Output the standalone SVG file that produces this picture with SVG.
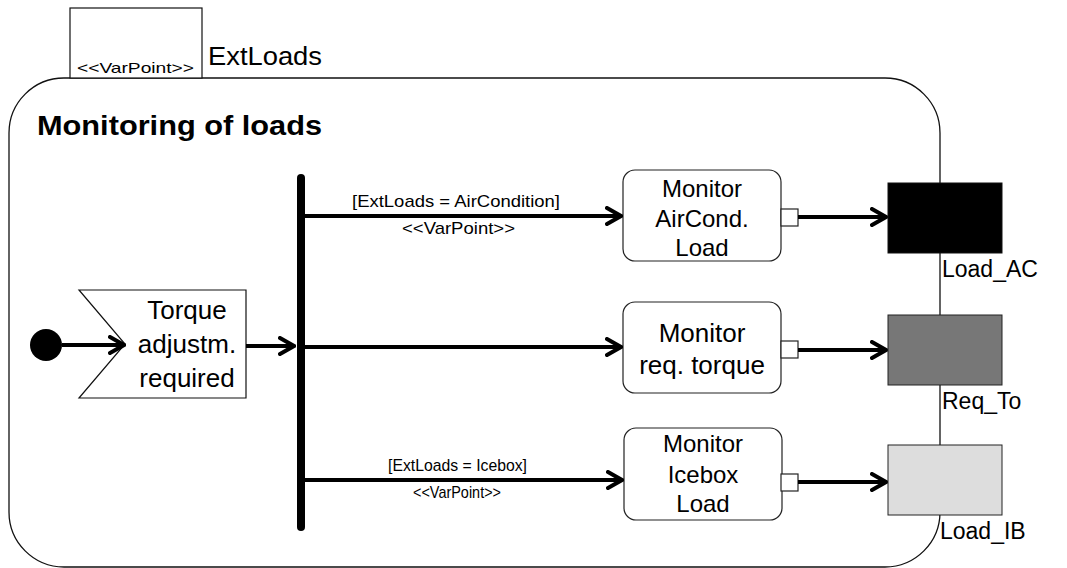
<svg xmlns="http://www.w3.org/2000/svg" width="1067" height="568" viewBox="0 0 1067 568">
<style>
text{font-family:"Liberation Sans",Arial,sans-serif;fill:#000}
.lbl{font-size:23px}
.nd{font-size:24px}
.nd2{font-size:26px}
.flag{font-size:26px}
.mid{font-size:17px}
.sm{font-size:15px}
.title{font-size:28px;font-weight:bold}
.act{fill:#fff;stroke:#222;stroke-width:1.2}
.pin{fill:#fff;stroke:#222;stroke-width:1.2}
.conn{stroke:#000;stroke-width:4;fill:none}
.c{text-anchor:middle}
</style>
<defs>
<marker id="arr" markerUnits="userSpaceOnUse" viewBox="-16 -10 18 20" refX="0" refY="0" markerWidth="18" markerHeight="20" orient="auto">
<path d="M-14,-8 L0,0 L-14,8" fill="none" stroke="#000" stroke-width="4" stroke-linecap="round" stroke-linejoin="miter"/>
</marker>
</defs>
<rect width="1067" height="568" fill="#fff"/>

<g id="frame">
<rect x="9" y="78" width="931" height="489" rx="55" ry="55" fill="none" stroke="#111" stroke-width="1.3"/>
<text class="title" x="37" y="135" textLength="285" lengthAdjust="spacingAndGlyphs">Monitoring of loads</text>
</g>

<g id="varpoint-extloads">
<rect x="70" y="8" width="132" height="70" fill="#fff" stroke="#111" stroke-width="1.2"/>
<text class="sm" x="77" y="73" textLength="117" lengthAdjust="spacingAndGlyphs">&lt;&lt;VarPoint&gt;&gt;</text>
<text style="font-size:25px" x="208" y="65" textLength="114" lengthAdjust="spacingAndGlyphs">ExtLoads</text>
</g>

<g id="initial">
<circle cx="46" cy="345" r="16" fill="#000"/>
</g>

<g id="accept-event">
<polygon points="79,290 246,290 246,398 79,398 125,344" fill="#fff" stroke="#111" stroke-width="1.2"/>
<text class="flag c" x="187" y="319">Torque</text>
<text class="flag c" x="187" y="353">adjustm.</text>
<text class="flag c" x="187" y="387">required</text>
</g>

<g id="fork">
<line x1="301" y1="178" x2="301" y2="527" stroke="#000" stroke-width="8" stroke-linecap="round"/>
</g>

<g id="act-aircond">
<rect class="act" x="623" y="170" width="158" height="91" rx="12"/>
<text class="nd c" x="702" y="197">Monitor</text>
<text class="nd c" x="702" y="227">AirCond.</text>
<text class="nd c" x="702" y="256">Load</text>
<rect class="pin" x="781" y="209" width="17" height="17"/>
</g>

<g id="act-torque">
<rect class="act" x="623" y="302" width="158" height="91" rx="12"/>
<text class="nd2 c" x="702" y="342">Monitor</text>
<text class="nd2 c" x="702" y="374">req. torque</text>
<rect class="pin" x="781" y="341" width="17" height="17"/>
</g>

<g id="act-icebox">
<rect class="act" x="624" y="428" width="158" height="92" rx="12"/>
<text class="nd c" x="703" y="452">Monitor</text>
<text class="nd c" x="703" y="483">Icebox</text>
<text class="nd c" x="703" y="512">Load</text>
<rect class="pin" x="781" y="474" width="17" height="17"/>
</g>

<g id="connectors">
<line class="conn" x1="62" y1="345" x2="124" y2="345" marker-end="url(#arr)"/>
<line class="conn" x1="246" y1="346" x2="294" y2="346" marker-end="url(#arr)"/>
<line class="conn" x1="301" y1="216" x2="621" y2="216" marker-end="url(#arr)"/>
<line class="conn" x1="301" y1="347" x2="621" y2="347" marker-end="url(#arr)"/>
<line class="conn" x1="301" y1="480" x2="622" y2="480" marker-end="url(#arr)"/>
<line class="conn" x1="798" y1="217" x2="886" y2="217" marker-end="url(#arr)"/>
<line class="conn" x1="798" y1="350" x2="886" y2="350" marker-end="url(#arr)"/>
<line class="conn" x1="798" y1="482" x2="886" y2="482" marker-end="url(#arr)"/>
<text class="mid" x="352" y="207" textLength="208" lengthAdjust="spacingAndGlyphs">[ExtLoads = AirCondition]</text>
<text class="mid" x="402" y="234" textLength="113" lengthAdjust="spacingAndGlyphs">&lt;&lt;VarPoint&gt;&gt;</text>
<text class="mid" x="388" y="471" textLength="139" lengthAdjust="spacingAndGlyphs">[ExtLoads = Icebox]</text>
<text class="mid" x="413" y="498" textLength="88" lengthAdjust="spacingAndGlyphs">&lt;&lt;VarPoint&gt;&gt;</text>
</g>

<g id="obj-load-ac">
<rect x="888" y="183" width="114" height="70" fill="#000" stroke="#111" stroke-width="1"/>
<text class="lbl" x="942" y="277">Load_AC</text>
</g>

<g id="obj-req-to">
<rect x="888" y="315" width="114" height="70" fill="#777" stroke="#222" stroke-width="1"/>
<text class="lbl" x="942" y="409">Req_To</text>
</g>

<g id="obj-load-ib">
<rect x="888" y="445" width="114" height="70" fill="#ddd" stroke="#222" stroke-width="1"/>
<text class="lbl" x="940" y="539">Load_IB</text>
</g>
</svg>
